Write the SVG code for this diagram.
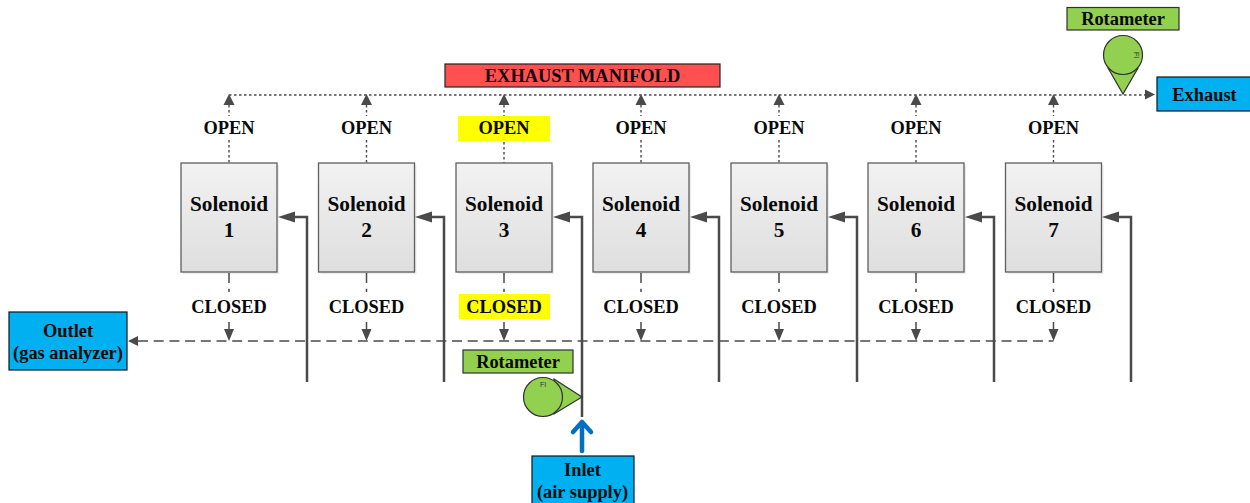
<svg xmlns="http://www.w3.org/2000/svg" width="1250" height="503" viewBox="0 0 1250 503">
<style>
text{font-family:"Liberation Serif","Times New Roman",serif;font-weight:bold;font-size:18.400px;fill:#0a0a0a;text-anchor:middle}
.big{font-size:21.300px}
.fi{font-family:"Liberation Sans",Arial,sans-serif;font-weight:normal;font-size:7px;fill:#333}
.sol{fill:url(#g);stroke:#5f5f5f;stroke-width:1.3}
.shadow{fill:#000;opacity:.08}
.blue{fill:#00b0f0;stroke:#0d181f;stroke-width:1.2}
.grn{fill:#92d050;stroke:#303030;stroke-width:1.2}
.dot{fill:none;stroke:#4a4a4a;stroke-width:1.4;stroke-dasharray:2.500 2.500}
.dash{fill:none;stroke:#4a4a4a;stroke-width:1.5;stroke-dasharray:10 5.700}
.feed{fill:none;stroke:#4a4a4a;stroke-width:2.500}
.ah{fill:#4a4a4a}
.yel{fill:#ffff00}
</style>
<defs>
<linearGradient id="g" x1="0" y1="0" x2="0" y2="1"><stop offset="0" stop-color="#f2f2f2"/><stop offset="1" stop-color="#dedede"/></linearGradient>
<path id="up" class="ah" d="M0 0L-5.500 11H5.500Z"/>
<path id="down" class="ah" d="M0 0L-5 -12H5Z"/>
<path id="left" class="ah" d="M0 0L17 -5.500V5.500Z"/>
</defs>
<g id="connectors">
<path class="dot" d="M229 95H1146"/>
<use href="#up" x="229" y="94"/><use href="#up" x="366.500" y="94"/><use href="#up" x="504" y="94"/><use href="#up" x="641" y="94"/><use href="#up" x="779" y="94"/><use href="#up" x="916" y="94"/><use href="#up" x="1053.500" y="94"/>
<path class="ah" d="M1155 94.500L1145 89.500V99.500Z"/>
<path class="dot" d="M229 105V116M229 140V163M366.500 105V116M366.500 140V163M504 105V116M504 142V163M641 105V116M641 140V163M779 105V116M779 140V163M916 105V116M916 140V163M1053.500 105V116M1053.500 140V163"/>
<path class="dash" d="M229 273V292M366.500 273V292M504 273V292M641 273V292M779 273V292M916 273V292M1053.500 273V292M229 322V331M366.500 322V331M504 322V331M641 322V331M779 322V331M916 322V331M1053.500 322V331"/>
<path class="dash" d="M138 341H1053.500"/>
<path class="ah" d="M128 341L138 336V346Z"/>
<use href="#down" x="229" y="341"/><use href="#down" x="366.500" y="341"/><use href="#down" x="504" y="341"/><use href="#down" x="641" y="341"/><use href="#down" x="779" y="341"/><use href="#down" x="916" y="341"/><use href="#down" x="1053.500" y="341"/>
<path class="feed" d="M307 382V217H290M444 382V217H427M582 417V217H565M719 382V217H702M857 382V217H840M994 382V217H977M1131 382V217H1114"/>
<use href="#left" x="278" y="217"/><use href="#left" x="415" y="217"/><use href="#left" x="553" y="217"/><use href="#left" x="690" y="217"/><use href="#left" x="828" y="217"/><use href="#left" x="965" y="217"/><use href="#left" x="1102" y="217"/>
<path fill="none" stroke="#0070c0" stroke-width="4.500" stroke-linecap="round" stroke-linejoin="round" d="M582 451V422M573 432L582 422L591 432"/>
</g>
<g id="manifold"><rect x="445" y="64" width="275" height="23" fill="#ff5050" stroke="#222" stroke-width="1.200"/><text x="582.500" y="81.500">EXHAUST MANIFOLD</text></g>
<g id="yellow-open"><rect class="yel" x="458" y="116" width="92" height="25"/></g>
<g id="yellow-closed"><rect class="yel" x="459" y="294" width="91" height="25"/></g>
<g id="labels-open">
<text x="229" y="133.600">OPEN</text><text x="366.500" y="133.600">OPEN</text><text x="504" y="133.600">OPEN</text><text x="641" y="133.600">OPEN</text><text x="779" y="133.600">OPEN</text><text x="916" y="133.600">OPEN</text><text x="1053.500" y="133.600">OPEN</text>
</g>
<g id="labels-closed">
<text x="229" y="312.600">CLOSED</text><text x="366.500" y="312.600">CLOSED</text><text x="504" y="312.600">CLOSED</text><text x="641" y="312.600">CLOSED</text><text x="779" y="312.600">CLOSED</text><text x="916" y="312.600">CLOSED</text><text x="1053.500" y="312.600">CLOSED</text>
</g>
<g id="solenoid1"><rect class="shadow" x="183" y="165" width="96" height="109"/><rect class="sol" x="181" y="163" width="96" height="109"/><text class="big" x="229" y="211">Solenoid</text><text class="big" x="229" y="237">1</text></g>
<g id="solenoid2"><rect class="shadow" x="320.500" y="165" width="96" height="109"/><rect class="sol" x="318.500" y="163" width="96" height="109"/><text class="big" x="366.500" y="211">Solenoid</text><text class="big" x="366.500" y="237">2</text></g>
<g id="solenoid3"><rect class="shadow" x="458" y="165" width="96" height="109"/><rect class="sol" x="456" y="163" width="96" height="109"/><text class="big" x="504" y="211">Solenoid</text><text class="big" x="504" y="237">3</text></g>
<g id="solenoid4"><rect class="shadow" x="595" y="165" width="96" height="109"/><rect class="sol" x="593" y="163" width="96" height="109"/><text class="big" x="641" y="211">Solenoid</text><text class="big" x="641" y="237">4</text></g>
<g id="solenoid5"><rect class="shadow" x="733" y="165" width="96" height="109"/><rect class="sol" x="731" y="163" width="96" height="109"/><text class="big" x="779" y="211">Solenoid</text><text class="big" x="779" y="237">5</text></g>
<g id="solenoid6"><rect class="shadow" x="870" y="165" width="96" height="109"/><rect class="sol" x="868" y="163" width="96" height="109"/><text class="big" x="916" y="211">Solenoid</text><text class="big" x="916" y="237">6</text></g>
<g id="solenoid7"><rect class="shadow" x="1007.500" y="165" width="96" height="109"/><rect class="sol" x="1005.500" y="163" width="96" height="109"/><text class="big" x="1053.500" y="211">Solenoid</text><text class="big" x="1053.500" y="237">7</text></g>
<g id="outlet"><rect class="blue" x="9" y="312" width="118" height="58"/><text x="68" y="336.600">Outlet</text><text x="68" y="358.600">(gas analyzer)</text></g>
<g id="inlet"><rect class="blue" x="532" y="456" width="102" height="50"/><text x="582.500" y="475.600">Inlet</text><text x="582.500" y="497.600">(air supply)</text></g>
<g id="exhaust"><rect class="blue" x="1157" y="77" width="94" height="34"/><text x="1204.500" y="100.600">Exhaust</text></g>
<g id="rotameter-top"><rect class="grn" x="1067" y="7.500" width="112" height="22.500"/><text x="1123" y="24.500">Rotameter</text>
<path class="grn" d="M1108 68L1123 94L1138 68Z"/><circle class="grn" cx="1123" cy="55" r="19.500"/><text class="fi" x="1134" y="55" transform="rotate(90 1134 55)">FI</text></g>
<g id="rotameter-bottom"><rect class="grn" x="463" y="350" width="110" height="23"/><text x="518" y="367.500">Rotameter</text>
<path class="grn" d="M554 379L582 397L554 414Z"/><circle class="grn" cx="543" cy="397" r="19.500"/><text class="fi" x="543" y="387">FI</text></g>
</svg>
